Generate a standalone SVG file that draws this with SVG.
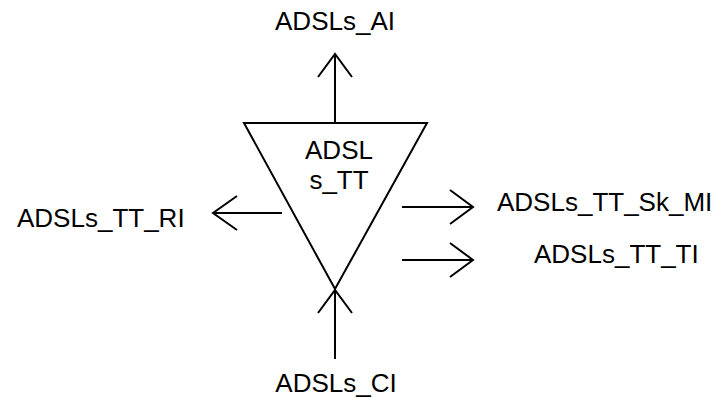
<svg xmlns="http://www.w3.org/2000/svg" width="719" height="398" viewBox="0 0 719 398">
<style>
.ln{stroke:#000;stroke-width:2;fill:none}
.t{font-family:"Liberation Sans",Arial,sans-serif;font-size:26px;fill:#000}
</style>
<rect width="719" height="398" fill="#fff"/>
<g id="node-tt">
<polygon class="ln" points="244,123 427,123 335,289"/>
<text class="t" x="339" y="159" text-anchor="middle">ADSL</text>
<text class="t" x="339" y="189" text-anchor="middle">s_TT</text>
</g>
<g id="label-ai"><text class="t" x="335" y="30" text-anchor="middle">ADSLs_AI</text></g>
<g id="label-ri"><text class="t" x="17" y="227">ADSLs_TT_RI</text></g>
<g id="label-skmi"><text class="t" x="497" y="211">ADSLs_TT_Sk_MI</text></g>
<g id="label-ti"><text class="t" x="534" y="263">ADSLs_TT_TI</text></g>
<g id="label-ci"><text class="t" x="336" y="392" text-anchor="middle">ADSLs_CI</text></g>
<g id="connectors">
<path class="ln" d="M335,123 V54 M318,77 L335,54 L352,77"/>
<path class="ln" d="M282,213 H213 M237,196 L213,213 L237,230"/>
<path class="ln" d="M402,207 H473 M450,190 L473,207 L450,224"/>
<path class="ln" d="M402,260 H473 M450,243 L473,260 L450,277"/>
<path class="ln" d="M335,359 V290 M318,313 L335,290 L352,313"/>
</g>
</svg>
